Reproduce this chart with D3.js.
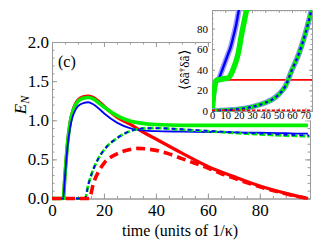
<!DOCTYPE html>
<html lang="en">
<head>
<meta charset="UTF-8">
<script src="https://d3js.org/d3.v7.min.js"></script>
<title>E_N vs time</title>
<style>
  body { margin:0; background:#fff; }
  svg { display:block; }
  .frame .domain { stroke:#9a9a9a; stroke-width:1; }
  .frame line { stroke:#9a9a9a; }
  .frame text { fill:#000; }
</style>
</head>
<body>
<svg width="322" height="241"></svg>
<script>
// ---- main panel data ----
const tSolid   = [0, 4.3, 5, 6, 7, 8, 9, 10, 12, 14, 16, 18, 20, 25, 30, 35, 40, 50, 60, 70, 80, 90, 95, 98.5];
const redSolid = [0, 0, 0.30, 0.72, 0.98, 1.12, 1.21, 1.26, 1.30, 1.31, 1.29, 1.24, 1.18, 1.04, 0.95, 0.85, 0.76, 0.58, 0.41, 0.28, 0.16, 0.065, 0.025, 0];
const greenSolid = [0, 0, 0.30, 0.71, 0.97, 1.11, 1.19, 1.24, 1.28, 1.29, 1.27, 1.22, 1.17, 1.06, 0.99, 0.96, 0.945, 0.935, 0.935, 0.935, 0.935, 0.935, 0.935, 0.935];
const blueSolid  = [0, 0, 0.28, 0.67, 0.91, 1.05, 1.13, 1.18, 1.22, 1.23, 1.20, 1.15, 1.09, 0.97, 0.90, 0.87, 0.86, 0.855, 0.85, 0.845, 0.84, 0.835, 0.83, 0.83];

const tDashBG   = [0, 12.7, 14, 16, 18, 20, 25, 30, 35, 40, 50, 60, 70, 80, 90, 99];
const greenDash = [0, 0, 0.18, 0.38, 0.52, 0.62, 0.77, 0.86, 0.895, 0.90, 0.88, 0.86, 0.84, 0.82, 0.805, 0.795];
const blueDash  = [0, 0, 0.18, 0.38, 0.52, 0.62, 0.77, 0.86, 0.895, 0.90, 0.885, 0.865, 0.845, 0.83, 0.815, 0.805];

const tDashR  = [0, 14.3, 16, 18, 20, 25, 30, 33, 36, 40, 45, 50, 55, 60, 65, 70, 80, 90, 98.5];
const redDash = [0, 0, 0.20, 0.35, 0.45, 0.57, 0.625, 0.64, 0.635, 0.615, 0.57, 0.51, 0.45, 0.39, 0.32, 0.26, 0.15, 0.06, 0];

const xTicks = [0, 20, 40, 60, 80];
const yTicks = [0, 0.5, 1.0, 1.5, 2.0];

// ---- inset data ----
const tInRed = [0, 1, 2, 3, 4, 75];
const inRed  = [0, 14, 24, 29, 30.2, 30.2];
const tInBlue = [0, 1, 2, 3, 4, 5, 6, 8, 10, 12, 14, 16, 18, 20, 22];
const inBlue  = [0, 14, 24, 29, 30, 31, 34, 41, 48, 55, 62, 72, 83, 97, 112];
const tInGreen = [0, 1, 2, 3, 4, 6, 8, 10, 12, 14, 16, 18, 20, 22, 24, 26, 27.5];
const inGreen  = [0, 14, 24, 29, 30, 30.5, 31, 31.5, 32, 35, 41, 48, 58, 73, 86, 99, 110];
const tInLow = [0, 10, 20, 30, 40, 45, 50, 55, 60, 65, 70, 75];
const inLow  = [0, 0.8, 1.8, 4, 8, 11, 16, 24, 40, 55, 75, 100];
const tInRedDash = [0, 75];
const inRedDash  = [0.6, 0.6];
const xTicksIn = [0, 10, 20, 30, 40, 50, 60, 70];
const yTicksIn = [0, 20, 40, 60, 80];

const SERIF = "'Times New Roman', Times, 'Liberation Serif', 'Noto Serif', serif";
const svg = d3.select('svg').style('font-family', SERIF);
const pts = (ts, vs) => ts.map((t, i) => [t, vs[i]]);

// scales
const x = d3.scaleLinear().domain([0, 99.3]).range([52, 310]);
const y = d3.scaleLinear().domain([0, 2]).range([198.5, 42]);
const xi = d3.scaleLinear().domain([0, 75]).range([212, 312]);
const yi = d3.scaleLinear().domain([0, 98]).range([111, 10]);

svg.append('defs').append('clipPath').attr('id', 'clipMain')
  .append('rect').attr('x', 52).attr('y', 42).attr('width', 258).attr('height', 159);
svg.select('defs').append('clipPath').attr('id', 'clipIn')
  .append('rect').attr('x', 212).attr('y', 10).attr('width', 100).attr('height', 101.5);

// axis helper: replaces d3's default sans-serif font
function ax(g, tr, axis, size) {
  const a = g.append('g').attr('transform', tr).call(axis)
    .attr('font-family', SERIF).attr('font-size', size || 10);
  a.selectAll('text').style('font-family', SERIF).style('font-size', (size || 10) + 'px');
  return a;
}

// ---- main frame ----
const fr = svg.append('g').attr('class', 'frame');
const bt = 'translate(0,' + y(0) + ')', tp = 'translate(0,' + y(2) + ')';
ax(fr, bt, d3.axisBottom(x).tickValues(d3.range(0, 100, 5)).tickSize(-2.5).tickFormat(''));
ax(fr, bt, d3.axisBottom(x).tickValues(xTicks).tickSizeInner(-5).tickSizeOuter(0).tickPadding(5).tickFormat(d3.format('d')), 17);
ax(fr, tp, d3.axisTop(x).tickValues(d3.range(0, 100, 5)).tickSize(-2.5).tickFormat(''));
ax(fr, tp, d3.axisTop(x).tickValues(xTicks).tickSize(-5).tickFormat(''));
ax(fr, 'translate(52,0)', d3.axisLeft(y).tickValues(d3.range(0, 2.01, 0.1)).tickSize(-2.5).tickFormat(''));
ax(fr, 'translate(52,0)', d3.axisLeft(y).tickValues(yTicks).tickSizeInner(-5).tickSizeOuter(0).tickPadding(3).tickFormat(d3.format('.1f')), 17);
ax(fr, 'translate(310,0)', d3.axisRight(y).tickValues(d3.range(0, 2.01, 0.1)).tickSize(-2.5).tickFormat(''));
ax(fr, 'translate(310,0)', d3.axisRight(y).tickValues(yTicks).tickSize(-5).tickFormat(''));

// ---- main curves ----
const line = d3.line().x(d => x(d[0])).y(d => y(d[1])).curve(d3.curveMonotoneX);
const gm = svg.append('g').attr('clip-path', 'url(#clipMain)');
function draw(g, gen, data, color, w, dash) {
  g.append('path').datum(data).attr('d', gen)
    .attr('fill', 'none').attr('stroke', color).attr('stroke-width', w)
    .attr('stroke-dasharray', dash || null);
}
draw(gm, line, pts(tSolid, redSolid), '#ff0000', 3.2);
draw(gm, line, pts(tSolid, greenSolid), '#00ee00', 3.6);
draw(gm, line, pts(tSolid, blueSolid), '#0000ff', 1.8);
draw(gm, line, pts(tDashBG, greenDash), '#00ee00', 2.8, '6,2');
draw(gm, line, pts(tDashBG, blueDash), '#0000ff', 1.8, '4,4');
draw(gm, line, pts(tDashR, redDash), '#ff0000', 3.6, '9,5');

// labels
svg.append('text').attr('x', 58).attr('y', 67).style('font-family', SERIF).style('font-size', '16px').text('(c)');
svg.append('text').attr('x', 180).attr('y', 236).attr('text-anchor', 'middle')
  .style('font-family', SERIF).style('font-size', '16px').text('time (units of 1/κ)');
const yl = svg.append('text').attr('transform', 'translate(26,105) rotate(-90)')
  .attr('text-anchor', 'middle').style('font-family', SERIF).style('font-size', '17px')
  .style('font-style', 'italic');
yl.append('tspan').text('E');
yl.append('tspan').attr('baseline-shift', '-25%').style('font-size', '12px').text('N');

// ---- inset ----
const gi = svg.append('g');
gi.append('rect').attr('x', 211).attr('y', 9.5).attr('width', 104).attr('height', 111).attr('fill', '#fff');
const fi = gi.append('g').attr('class', 'frame');
const ib = 'translate(0,' + yi(0) + ')', itp = 'translate(0,' + yi(98) + ')';
ax(fi, ib, d3.axisBottom(xi).tickValues(d3.range(0, 76, 2)).tickSize(-1.5).tickFormat(''));
ax(fi, ib, d3.axisBottom(xi).tickValues(xTicksIn).tickSizeInner(-3).tickSizeOuter(0).tickPadding(1).tickFormat(d3.format('d')), 10.5);
ax(fi, itp, d3.axisTop(xi).tickValues(d3.range(0, 76, 2)).tickSize(-1.5).tickFormat(''));
ax(fi, itp, d3.axisTop(xi).tickValues(xTicksIn).tickSize(-3).tickFormat(''));
ax(fi, 'translate(212,0)', d3.axisLeft(yi).tickValues(d3.range(0, 98, 5)).tickSize(-1.5).tickFormat(''));
ax(fi, 'translate(212,0)', d3.axisLeft(yi).tickValues(yTicksIn).tickSizeInner(-3).tickSizeOuter(0).tickPadding(4).tickFormat(d3.format('d')), 11);
ax(fi, 'translate(312,0)', d3.axisRight(yi).tickValues(d3.range(0, 98, 5)).tickSize(-1.5).tickFormat(''));
ax(fi, 'translate(312,0)', d3.axisRight(yi).tickValues(yTicksIn).tickSize(-3).tickFormat(''));

const lineIn = d3.line().x(d => xi(d[0])).y(d => yi(d[1])).curve(d3.curveMonotoneX);
const gc = gi.append('g').attr('clip-path', 'url(#clipIn)');
draw(gc, lineIn, pts(tInRed, inRed), '#ff0000', 1.6);
draw(gc, lineIn, pts(tInBlue, inBlue), '#9a9aff', 5.5);
draw(gc, lineIn, pts(tInBlue, inBlue), '#0000ff', 2.4);
draw(gc, lineIn, pts(tInGreen, inGreen), '#00f000', 5.5);
draw(gc, lineIn, pts(tInLow, inLow), '#8c8cff', 5.5);
draw(gc, lineIn, pts(tInLow, inLow), '#00ee00', 3.8);
draw(gc, lineIn, pts(tInLow, inLow), '#0000ff', 2.2, '3,3');
draw(gc, lineIn, pts(tInRedDash, inRedDash), '#ff0000', 1.6, '3,2');

const il = svg.append('text').attr('transform', 'translate(189,70) rotate(-90)')
  .attr('text-anchor', 'middle').style('font-family', SERIF).style('font-size', '13.5px');
il.append('tspan').text('⟨δâ');
il.append('tspan').attr('baseline-shift', '40%').style('font-size', '9px').text('†');
il.append('tspan').text('δâ⟩');
</script>
</body>
</html>
